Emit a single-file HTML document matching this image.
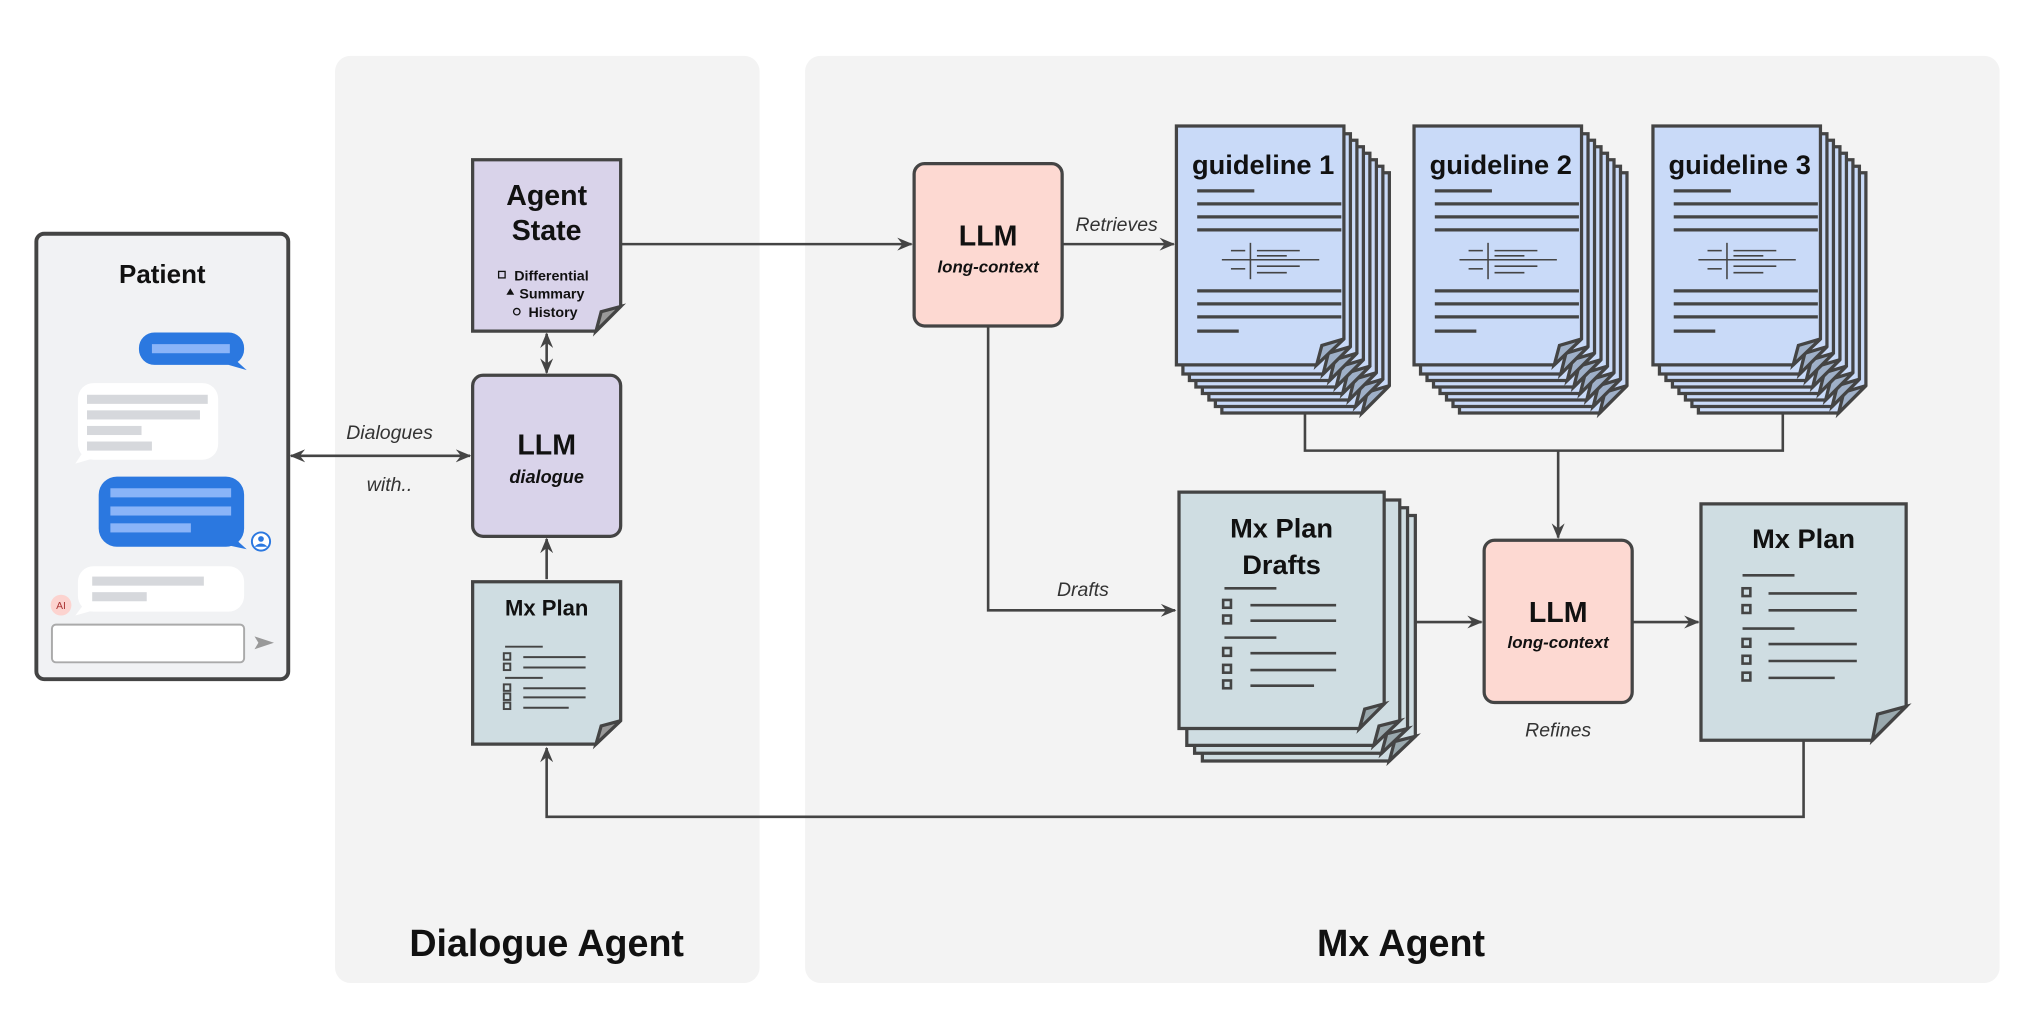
<!DOCTYPE html>
<html><head><meta charset="utf-8"><style>
html,body{margin:0;padding:0;background:#fff}
svg{display:block}
text{font-family:"Liberation Sans",sans-serif}
</style></head><body>
<svg width="2036" height="1022" viewBox="0 0 1568 787" preserveAspectRatio="none" xmlns="http://www.w3.org/2000/svg">
<defs>
<marker id="ar" viewBox="0 0 12 10" refX="11" refY="5" markerWidth="12" markerHeight="10" markerUnits="userSpaceOnUse" orient="auto-start-reverse">
<path d="M0,0 L12,5 L0,10 L4,5 Z" fill="#444"/></marker>
<g id="gl">
<line x1="16" y1="50" x2="60" y2="50"/>
<line x1="16" y1="60" x2="127" y2="60"/>
<line x1="16" y1="70" x2="127" y2="70"/>
<line x1="16" y1="80" x2="127" y2="80"/>
<g stroke-width="1.2"><line x1="57" y1="90" x2="57" y2="118"/><line x1="35" y1="103" x2="110" y2="103"/>
<line x1="42" y1="96" x2="53" y2="96"/><line x1="42" y1="110" x2="53" y2="110"/>
<line x1="62" y1="96" x2="95" y2="96"/><line x1="62" y1="100" x2="85" y2="100"/><line x1="62" y1="108" x2="95" y2="108"/><line x1="62" y1="113" x2="85" y2="113"/></g>
<line x1="16" y1="127" x2="127" y2="127"/>
<line x1="16" y1="137" x2="127" y2="137"/>
<line x1="16" y1="147" x2="127" y2="147"/>
<line x1="16" y1="158" x2="48" y2="158"/>
</g>
</defs>
<rect x="258" y="43" width="327" height="714" rx="12" fill="#f3f3f3"/>
<rect x="620" y="43" width="920" height="714" rx="12" fill="#f3f3f3"/>
<text x="421" y="736" font-size="29" font-weight="bold" text-anchor="middle" fill="#111">Dialogue Agent</text>
<text x="1079" y="736" font-size="29" font-weight="bold" text-anchor="middle" fill="#111">Mx Agent</text>

<rect x="28" y="180" width="194" height="343" rx="6" fill="#f1f2f4" stroke="#444" stroke-width="3"/>
<text x="125" y="218" font-size="20" font-weight="bold" text-anchor="middle" fill="#111">Patient</text>
<rect x="107" y="256" width="81" height="25" rx="12" fill="#2b78e0"/><path d="M180,276 L190,285 L176,281 Z" fill="#2b78e0"/>
<rect x="117" y="265" width="60" height="7" fill="#8ab4f8"/>
<rect x="60" y="295" width="108" height="59" rx="12" fill="#fff"/><path d="M64,348 L58,357 L72,353 Z" fill="#fff"/>
<rect x="67" y="304" width="93" height="7" fill="#d6d8dc"/><rect x="67" y="316" width="87" height="7" fill="#d6d8dc"/><rect x="67" y="328" width="42" height="7" fill="#d6d8dc"/><rect x="67" y="340" width="50" height="7" fill="#d6d8dc"/>
<rect x="76" y="367" width="112" height="54" rx="14" fill="#2b78e0"/><path d="M180,414 L190,423 L176,420 Z" fill="#2b78e0"/>
<rect x="85" y="376" width="93" height="7" fill="#8ab4f8"/><rect x="85" y="390" width="93" height="7" fill="#8ab4f8"/><rect x="85" y="403" width="62" height="7" fill="#8ab4f8"/>
<circle cx="201" cy="417" r="7" fill="#fff" stroke="#2b78e0" stroke-width="1.5"/><circle cx="201" cy="415" r="2.2" fill="#2b78e0"/><path d="M196,421 Q201,416 206,421" fill="#2b78e0"/>
<rect x="60" y="436" width="128" height="35" rx="12" fill="#fff"/><path d="M64,466 L58,474 L72,470 Z" fill="#fff"/>
<rect x="71" y="444" width="86" height="7" fill="#d6d8dc"/><rect x="71" y="456" width="42" height="7" fill="#d6d8dc"/>
<circle cx="47" cy="466" r="8" fill="#fcd3cf"/><text x="47" y="469" font-size="8" text-anchor="middle" fill="#a33">AI</text>
<rect x="40" y="481" width="148" height="29" rx="3" fill="#fff" stroke="#aaa" stroke-width="1.5"/>
<path d="M196,490 L211,495 L196,500 L199,495 Z" fill="#999"/>

<g stroke="#444" stroke-width="2" fill="none">
<line x1="224" y1="351" x2="362" y2="351" marker-start="url(#ar)" marker-end="url(#ar)"/>
<line x1="421" y1="257" x2="421" y2="287" marker-start="url(#ar)" marker-end="url(#ar)"/>
<line x1="421" y1="446" x2="421" y2="415" marker-end="url(#ar)"/>
<line x1="478" y1="188" x2="702" y2="188" marker-end="url(#ar)"/>
<line x1="818" y1="188" x2="904" y2="188" marker-end="url(#ar)"/>
<polyline points="761,251 761,470 905,470" marker-end="url(#ar)"/>
<polyline points="1005,300 1005,347 1373,347 1373,300"/>
<line x1="1200" y1="347" x2="1200" y2="414" marker-end="url(#ar)"/>
<line x1="1075" y1="479" x2="1141" y2="479" marker-end="url(#ar)"/>
<line x1="1257" y1="479" x2="1308" y2="479" marker-end="url(#ar)"/>
<polyline points="1389,570 1389,629 421,629 421,576" marker-end="url(#ar)"/>
</g>
<g font-size="15" font-style="italic" fill="#333" text-anchor="middle">
<text x="300" y="338">Dialogues</text><text x="300" y="378">with..</text>
<text x="860" y="178">Retrieves</text>
<text x="834" y="459">Drafts</text>
<text x="1200" y="567">Refines</text>
</g>

<g stroke="#444" stroke-width="2.5">
<path d="M364,123 H478 V236 L459,255 H364 Z" fill="#d9d3ea"/>
<path d="M478,236 L459,255 L463,240 Z" fill="#999"/>
<rect x="364" y="289" width="114" height="124" rx="8" fill="#d9d3ea"/>
<path d="M364,448 H478 V555 L459,573 H364 Z" fill="#cfdde2"/>
<path d="M478,555 L459,573 L463,559 Z" fill="#999"/>
</g>
<text x="421" y="158" font-size="22" font-weight="bold" text-anchor="middle" fill="#111">Agent</text>
<text x="421" y="185" font-size="22" font-weight="bold" text-anchor="middle" fill="#111">State</text>
<g font-size="11" font-weight="bold" fill="#111"><text x="396" y="216">Differential</text><text x="400" y="230">Summary</text><text x="407" y="244">History</text></g>
<rect x="384" y="209" width="5" height="5" fill="none" stroke="#111" stroke-width="1"/><path d="M390,227 L393,222 L396,227Z" fill="#111"/><circle cx="398" cy="240" r="2.5" fill="none" stroke="#111"/>
<text x="421" y="350" font-size="22" font-weight="bold" text-anchor="middle" fill="#111">LLM</text>
<text x="421" y="372" font-size="14" font-weight="bold" font-style="italic" text-anchor="middle" fill="#111">dialogue</text>
<text x="421" y="474" font-size="17" font-weight="bold" text-anchor="middle" fill="#111">Mx Plan</text>
<g stroke="#444" stroke-width="1.5" fill="none">
<line x1="389" y1="498" x2="418" y2="498"/><line x1="403" y1="506" x2="451" y2="506"/><line x1="403" y1="514" x2="451" y2="514"/>
<line x1="389" y1="522" x2="418" y2="522"/><line x1="403" y1="530" x2="451" y2="530"/><line x1="403" y1="537" x2="451" y2="537"/><line x1="403" y1="545" x2="438" y2="545"/>
<rect x="388" y="503" width="5" height="5"/><rect x="388" y="511" width="5" height="5"/><rect x="388" y="527" width="5" height="5"/><rect x="388" y="534" width="5" height="5"/><rect x="388" y="541" width="5" height="5"/>
</g>

<g stroke="#444" stroke-width="2.5" fill="#fdd9d2">
<rect x="704" y="126" width="114" height="125" rx="8"/>
<rect x="1143" y="416" width="114" height="125" rx="8"/>
</g>
<text x="761" y="189" font-size="22" font-weight="bold" text-anchor="middle" fill="#111">LLM</text>
<text x="761" y="210" font-size="13" font-weight="bold" font-style="italic" text-anchor="middle" fill="#111">long-context</text>
<text x="1200" y="479" font-size="22" font-weight="bold" text-anchor="middle" fill="#111">LLM</text>
<text x="1200" y="499" font-size="13" font-weight="bold" font-style="italic" text-anchor="middle" fill="#111">long-context</text>

<g id="stack">
<g stroke="#444" stroke-width="2.5">
<path d="M941,133 H1070 V297 L1049,318 H941 Z" fill="#c9daf8"/><path d="M1070,297 L1049,318 L1053,302Z" fill="#9fb0c8"/>
<path d="M936,128 H1065 V292 L1044,313 H936 Z" fill="#c9daf8"/><path d="M1065,292 L1044,313 L1048,297Z" fill="#9fb0c8"/>
<path d="M931,123 H1060 V287 L1039,308 H931 Z" fill="#c9daf8"/><path d="M1060,287 L1039,308 L1043,292Z" fill="#9fb0c8"/>
<path d="M926,118 H1055 V282 L1034,303 H926 Z" fill="#c9daf8"/><path d="M1055,282 L1034,303 L1038,287Z" fill="#9fb0c8"/>
<path d="M921,113 H1050 V277 L1029,298 H921 Z" fill="#c9daf8"/><path d="M1050,277 L1029,298 L1033,282Z" fill="#9fb0c8"/>
<path d="M916,108 H1045 V272 L1024,293 H916 Z" fill="#c9daf8"/><path d="M1045,272 L1024,293 L1028,277Z" fill="#9fb0c8"/>
<path d="M911,103 H1040 V267 L1019,288 H911 Z" fill="#c9daf8"/><path d="M1040,267 L1019,288 L1023,272Z" fill="#9fb0c8"/>
<path d="M906,97 H1035 V261 L1014,281 H906 Z" fill="#c9daf8"/><path d="M1035,261 L1014,281 L1018,266Z" fill="#9fb0c8"/>
</g>
<g transform="translate(906,97)" stroke="#444" stroke-width="2.5"><use href="#gl"/></g>
</g>
<use href="#stack" transform="translate(183,0)"/>
<use href="#stack" transform="translate(367,0)"/>
<g font-size="21" font-weight="bold" fill="#111">
<text x="918" y="134">guideline 1</text><text x="1101" y="134">guideline 2</text><text x="1285" y="134">guideline 3</text>
</g>

<g stroke="#444" stroke-width="2.5">
<path d="M926,397 H1090 V567 L1070,586 H926 Z" fill="#cfdde2"/><path d="M1090,567 L1070,586 L1074,571Z" fill="#9aa9ae"/>
<path d="M920,391 H1084 V561 L1064,580 H920 Z" fill="#cfdde2"/><path d="M1084,561 L1064,580 L1068,565Z" fill="#9aa9ae"/>
<path d="M914,385 H1078 V555 L1058,574 H914 Z" fill="#cfdde2"/><path d="M1078,555 L1058,574 L1062,559Z" fill="#9aa9ae"/>
<path d="M908,379 H1066 V542 L1047,561 H908 Z" fill="#cfdde2"/><path d="M1066,542 L1047,561 L1051,546Z" fill="#9aa9ae"/>
<path d="M1310,388 H1468 V544 L1442,570 H1310 Z" fill="#cfdde2"/><path d="M1468,544 L1442,570 L1446,550Z" fill="#9aa9ae"/>
</g>
<text x="987" y="414" font-size="21" font-weight="bold" text-anchor="middle" fill="#111">Mx Plan</text>
<text x="987" y="442" font-size="21" font-weight="bold" text-anchor="middle" fill="#111">Drafts</text>
<text x="1389" y="422" font-size="21" font-weight="bold" text-anchor="middle" fill="#111">Mx Plan</text>
<g stroke="#444" stroke-width="2" fill="none">
<line x1="943" y1="453" x2="983" y2="453"/><line x1="963" y1="466" x2="1029" y2="466"/><line x1="963" y1="478" x2="1029" y2="478"/>
<line x1="943" y1="491" x2="983" y2="491"/><line x1="963" y1="503" x2="1029" y2="503"/><line x1="963" y1="516" x2="1029" y2="516"/><line x1="963" y1="528" x2="1012" y2="528"/>
<rect x="942" y="462" width="6" height="6"/><rect x="942" y="474" width="6" height="6"/><rect x="942" y="499" width="6" height="6"/><rect x="942" y="512" width="6" height="6"/><rect x="942" y="524" width="6" height="6"/>
<line x1="1342" y1="443" x2="1382" y2="443"/><line x1="1362" y1="457" x2="1430" y2="457"/><line x1="1362" y1="470" x2="1430" y2="470"/>
<line x1="1342" y1="484" x2="1382" y2="484"/><line x1="1362" y1="496" x2="1430" y2="496"/><line x1="1362" y1="509" x2="1430" y2="509"/><line x1="1362" y1="522" x2="1413" y2="522"/>
<rect x="1342" y="453" width="6" height="6"/><rect x="1342" y="466" width="6" height="6"/><rect x="1342" y="492" width="6" height="6"/><rect x="1342" y="505" width="6" height="6"/><rect x="1342" y="518" width="6" height="6"/>
</g>
</svg>
</body></html>
